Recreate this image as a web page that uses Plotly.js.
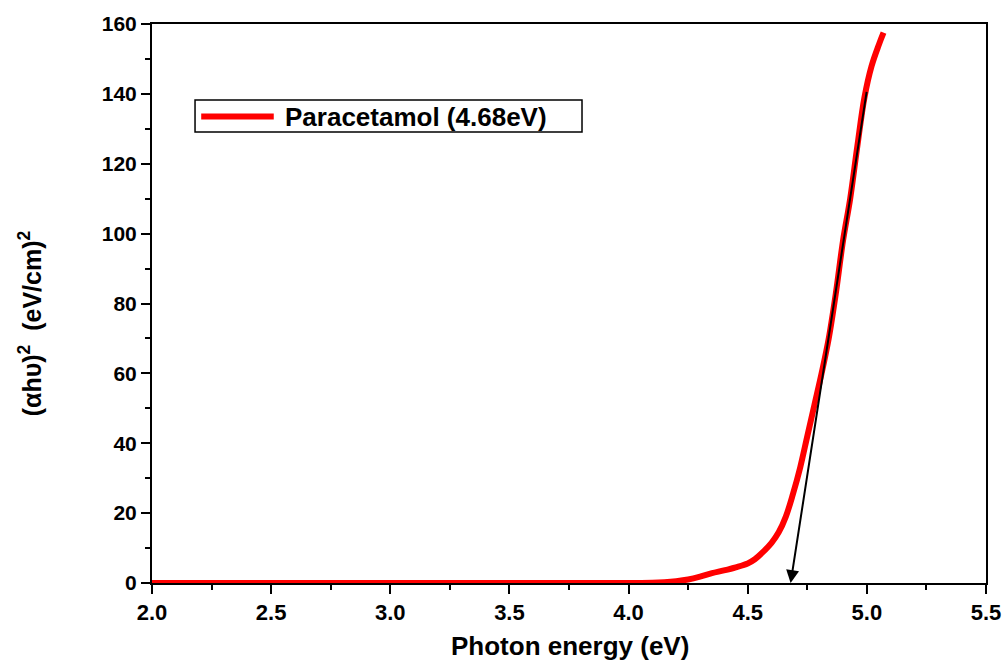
<!DOCTYPE html>
<html>
<head>
<meta charset="utf-8">
<script src="https://cdn.plot.ly/plotly-3.0.1.min.js"></script>
<style>html,body{margin:0;padding:0;background:#fff;}#chart{width:1004px;height:663px;}</style>
</head>
<body>
<div id="chart"></div>
<script>
const photonEnergy = [2.0, 2.5, 3.0, 3.5, 4.0, 4.1, 4.15, 4.2, 4.25, 4.3, 4.35, 4.4, 4.45, 4.5, 4.53, 4.56, 4.6, 4.63, 4.66, 4.69, 4.72, 4.75, 4.78, 4.81, 4.84, 4.87, 4.9, 4.93, 4.96, 4.99, 5.02, 5.05, 5.07];
const absorption = [0, 0, 0, 0, 0, 0.05, 0.2, 0.5, 1.0, 1.8, 2.8, 3.6, 4.5, 5.6, 6.8, 8.6, 11.5, 14.5, 19, 25.5, 33, 42, 51, 60, 70, 83, 98, 110, 125, 139, 148, 154, 157.5];
const seriesName = "Paracetamol (4.68eV)";
const xTitle = "Photon energy (eV)";
const yTitle = "(αhυ)<sup>2</sup>  (eV/cm)<sup>2</sup>";
const xTicks = [2.0, 2.5, 3.0, 3.5, 4.0, 4.5, 5.0, 5.5];
const yTicks = [0, 20, 40, 60, 80, 100, 120, 140, 160];
const bandGap = 4.68;
const tangentTop = [5.0, 141];

const font = "Liberation Sans, Arial, sans-serif";
const red = "#ff0000";
const trace = {
  x: photonEnergy, y: absorption, type: "scatter", mode: "lines",
  name: seriesName, showlegend: false,
  line: {color: red, width: 6, shape: "spline", smoothing: 1}
};
const layout = {
  width: 1004, height: 663,
  margin: {l: 152, r: 18, t: 24, b: 80},
  paper_bgcolor: "#fff", plot_bgcolor: "#fff",
  font: {family: font, color: "#000"},
  showlegend: false,
  xaxis: {
    range: [2.0, 5.5], tickvals: xTicks,
    ticktext: xTicks.map(v => "<b>" + v.toFixed(1) + "</b>"),
    ticks: "outside", ticklen: 9, tickwidth: 2, tickcolor: "#000",
    minor: {dtick: 0.25, ticks: "outside", ticklen: 5, tickwidth: 2, tickcolor: "#000"},
    showline: true, linecolor: "#000", linewidth: 2, mirror: true, showgrid: false, zeroline: false,
    tickfont: {family: font, size: 22, color: "#000"}
  },
  yaxis: {
    range: [0, 160], tickvals: yTicks,
    ticktext: yTicks.map(v => "<b>" + v + "</b>"),
    ticks: "outside", ticklen: 9, tickwidth: 2, tickcolor: "#000",
    minor: {dtick: 10, ticks: "outside", ticklen: 5, tickwidth: 2, tickcolor: "#000"},
    showline: true, linecolor: "#000", linewidth: 2, mirror: true, showgrid: false, zeroline: false,
    tickfont: {family: font, size: 21, color: "#000"}
  },
  shapes: [
    {type: "rect", xref: "paper", yref: "paper", x0: 0.0516, x1: 0.5156, y0: 0.807, y1: 0.864,
     line: {color: "#000", width: 1.5}, fillcolor: "#fff"},
    {type: "line", xref: "paper", yref: "paper", x0: 0.059, x1: 0.146, y0: 0.8345, y1: 0.8345,
     line: {color: red, width: 6}}
  ],
  annotations: [
    {x: bandGap, y: 0, xref: "x", yref: "y",
     ax: tangentTop[0], ay: tangentTop[1], axref: "x", ayref: "y",
     showarrow: true, arrowhead: 2, arrowsize: 1.3, arrowwidth: 2, arrowcolor: "#000", text: ""},
    {x: 0.157, y: 0.8345, xref: "paper", yref: "paper", xanchor: "left", yanchor: "middle", showarrow: false,
     text: "<b>" + seriesName + "</b>", font: {family: font, size: 26, color: "#000"}},
    {x: 0.501, y: -0.143, xref: "paper", yref: "paper", xanchor: "center", yanchor: "bottom", showarrow: false,
     text: "<b>" + xTitle + "</b>", font: {family: font, size: 26, color: "#000"}},
    {x: -0.146, y: 0.465, xref: "paper", yref: "paper", xanchor: "center", yanchor: "middle", showarrow: false,
     textangle: -90, text: "<b>" + yTitle + "</b>", font: {family: font, size: 25, color: "#000"}}
  ]
};
Plotly.newPlot("chart", [trace], layout, {displayModeBar: false, staticPlot: true});
</script>
</body>
</html>
